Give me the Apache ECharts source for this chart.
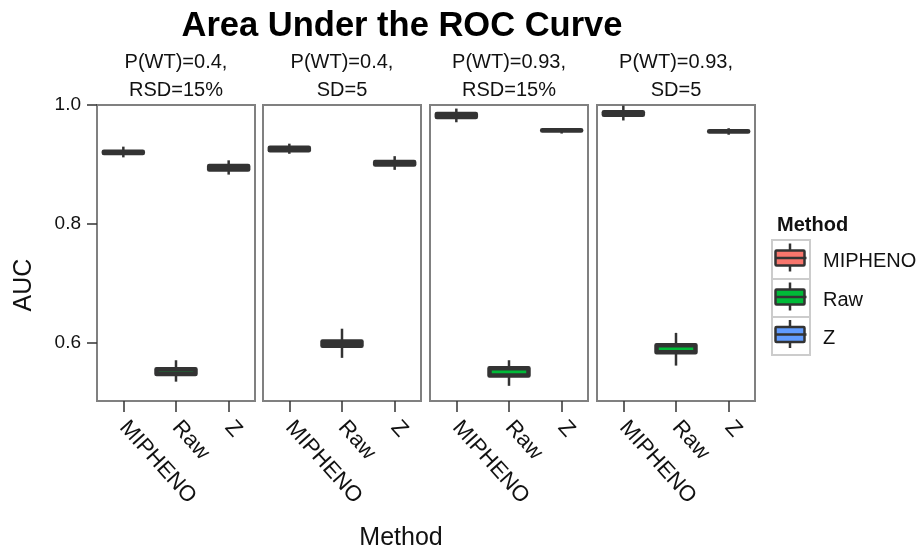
<!DOCTYPE html>
<html>
<head>
<meta charset="utf-8">
<script src="https://cdn.jsdelivr.net/npm/echarts@6/dist/echarts.min.js"></script>
<style>html,body{margin:0;padding:0;background:#fff}#c{width:922px;height:552px}</style>
</head>
<body>
<div id="c"></div>
<script>
// ---- data ----
const categories = ['MIPHENO', 'Raw', 'Z'];
const facetLabels = ['P(WT)=0.4,\nRSD=15%', 'P(WT)=0.4,\nSD=5', 'P(WT)=0.93,\nRSD=15%', 'P(WT)=0.93,\nSD=5'];
const yTicks = [0.6, 0.8, 1.0];
// each facet: [low whisker, Q1, median, Q3, high whisker]
const mipheno = [
  [0.912, 0.9195, 0.921, 0.9215, 0.930],
  [0.918, 0.924, 0.926, 0.928, 0.935],
  [0.971, 0.980, 0.9825, 0.985, 0.994],
  [0.974, 0.9836, 0.986, 0.988, 0.999]
];
const raw = [
  [0.535, 0.548, 0.552, 0.556, 0.571],
  [0.575, 0.5955, 0.598, 0.6025, 0.624],
  [0.528, 0.5455, 0.552, 0.5575, 0.571],
  [0.562, 0.5845, 0.5905, 0.596, 0.617]
];
const zval = [
  [0.883, 0.8917, 0.895, 0.8975, 0.907],
  [0.891, 0.900, 0.9025, 0.904, 0.914],
  [0.952, 0.9572, 0.9573, 0.9575, 0.961],
  [0.950, 0.9555, 0.9556, 0.9557, 0.961]
];
const methodData = [mipheno, raw, zval];
const methodColors = ['#F8766D', '#00BA38', '#619CFF'];

// ---- layout ----
const FONT = 'Liberation Sans, Arial, sans-serif';
const panelLeft = [97, 263, 430, 597];
const panelWidth = 158;
const panelTop = 105;
const panelHeight = 296;
const DARK = '#333333';

const chart = echarts.init(document.getElementById('c'), null, {renderer: 'canvas'});

function renderBox(params, api) {
  const x = api.value(0);
  const lo = api.coord([x, api.value(1)]);
  const q1 = api.coord([x, api.value(2)]);
  const md = api.coord([x, api.value(3)]);
  const q3 = api.coord([x, api.value(4)]);
  const hi = api.coord([x, api.value(5)]);
  const band = api.size([1, 0])[0];
  const half = band * 0.37;
  const cx = lo[0];
  const color = methodColors[x];
  return {
    type: 'group',
    children: [
      {type: 'line', shape: {x1: cx, y1: hi[1], x2: cx, y2: q3[1]}, style: {stroke: DARK, lineWidth: 2.5}},
      {type: 'line', shape: {x1: cx, y1: q1[1], x2: cx, y2: lo[1]}, style: {stroke: DARK, lineWidth: 2.5}},
      {type: 'line', shape: {x1: cx - half, y1: md[1], x2: cx + half, y2: md[1]}, style: {stroke: DARK, lineWidth: 1}},
      {type: 'rect', shape: {x: cx - half, y: q3[1], width: half * 2, height: Math.max(q1[1] - q3[1], 0.01)},
        style: {fill: color, stroke: DARK, lineWidth: 4.5, lineJoin: 'round'}}
    ]
  };
}

const grids = [], xAxes = [], yAxes = [], series = [], graphics = [];
for (let f = 0; f < 4; f++) {
  grids.push({left: panelLeft[f], top: panelTop, width: panelWidth, height: panelHeight,
    show: true, borderColor: '#808080', borderWidth: 2, backgroundColor: '#fff', containLabel: false});
  xAxes.push({
    type: 'category', gridIndex: f, data: categories, boundaryGap: true,
    axisLine: {show: false},
    axisTick: {show: true, alignWithLabel: true, length: 11, lineStyle: {color: DARK, width: 1.5}},
    axisLabel: {rotate: -48, fontFamily: FONT, fontSize: 22, color: '#111', margin: 23, interval: 0},
    splitLine: {show: false}
  });
  yAxes.push({
    type: 'value', gridIndex: f, min: 0.5025, max: 1.0,
    axisLine: {show: false},
    axisTick: {show: f === 0, length: 10, customValues: yTicks, lineStyle: {color: DARK, width: 1.5}},
    axisLabel: {show: f === 0, customValues: yTicks, fontFamily: FONT, fontSize: 19, color: '#111', margin: 16,
      formatter: v => v.toFixed(1)},
    splitLine: {show: false}
  });
  for (let m = 0; m < 3; m++) {
    const d = methodData[m][f];
    series.push({
      type: 'custom', name: categories[m], xAxisIndex: f, yAxisIndex: f,
      itemStyle: {color: methodColors[m]},
      encode: {x: 0, y: [1, 2, 3, 4, 5]},
      data: [[m, d[0], d[1], d[2], d[3], d[4]]],
      renderItem: renderBox, silent: true
    });
  }
  graphics.push({
    type: 'text', x: panelLeft[f] + panelWidth / 2, y: 48,
    style: {text: facetLabels[f], font: '20px ' + FONT, fill: '#111', textAlign: 'center', lineHeight: 28}
  });
}

// axis titles
graphics.push({type: 'text', x: 401, y: 538,
  style: {text: 'Method', font: '25px ' + FONT, fill: '#111', textAlign: 'center', textVerticalAlign: 'middle'}});
graphics.push({type: 'text', x: 24, y: 285, rotation: Math.PI / 2,
  style: {text: 'AUC', font: '25px ' + FONT, fill: '#111', textAlign: 'center', textVerticalAlign: 'middle'}});

// legend
graphics.push({type: 'text', x: 777, y: 225,
  style: {text: 'Method', font: 'bold 20px ' + FONT, fill: '#111', textAlign: 'left', textVerticalAlign: 'middle'}});
const keyTops = [240, 279, 317];
for (let m = 0; m < 3; m++) {
  const t = keyTops[m];
  const h = (m === 2 ? 38 : 39);
  const cy = t + h / 2;
  graphics.push({type: 'rect', shape: {x: 772, y: t, width: 38, height: h},
    style: {fill: '#fff', stroke: '#cccccc', lineWidth: 2}});
  graphics.push({type: 'line', shape: {x1: 790, y1: cy - 16, x2: 790, y2: cy + 12}, style: {stroke: DARK, lineWidth: 2.5}});
  graphics.push({type: 'rect', shape: {x: 775.5, y: cy - 9, width: 29, height: 15, r: 1},
    style: {fill: methodColors[m], stroke: DARK, lineWidth: 2.5}});
  graphics.push({type: 'line', shape: {x1: 775.5, y1: cy - 1.5, x2: 806.5, y2: cy - 1.5}, style: {stroke: DARK, lineWidth: 2.5}});
  graphics.push({type: 'text', x: 823, y: cy + 2,
    style: {text: categories[m], font: '20px ' + FONT, fill: '#111', textAlign: 'left', textVerticalAlign: 'middle'}});
}

chart.setOption({
  animation: false,
  backgroundColor: '#fff',
  title: {text: 'Area Under the ROC Curve', left: 397, top: 4, textAlign: 'center',
    textStyle: {fontFamily: FONT, fontSize: 34.5, fontWeight: 'bold', color: '#000'}},
  grid: grids,
  xAxis: xAxes,
  yAxis: yAxes,
  series: series,
  graphic: graphics
});
</script>
</body>
</html>
